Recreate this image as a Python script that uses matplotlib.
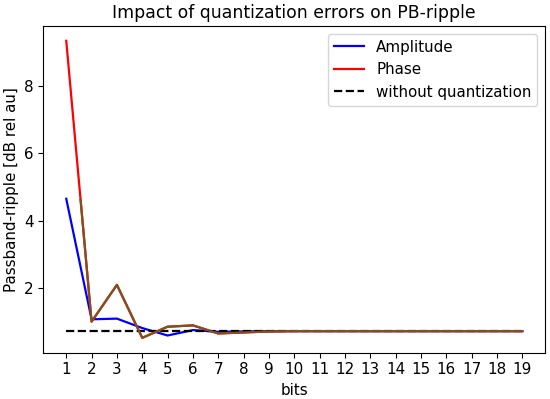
import matplotlib
matplotlib.use("Agg")
import matplotlib.pyplot as plt
import matplotlib.patches as mpatches

bits = list(range(1, 20))
amplitude = [4.65, 1.08, 1.10, 0.82, 0.60, 0.76, 0.71, 0.72, 0.73, 0.73, 0.73, 0.73,
             0.73, 0.73, 0.73, 0.73, 0.73, 0.73, 0.73]
phase = [9.33, 1.01, 2.10, 0.53, 0.86, 0.90, 0.66, 0.69, 0.72, 0.73, 0.73, 0.73,
         0.73, 0.73, 0.73, 0.73, 0.73, 0.73, 0.73]
no_quant = 0.73

plt.rcParams["font.size"] = 10.9
plt.rcParams["lines.linewidth"] = 1.6

fig = plt.figure(figsize=(5.5, 3.99), dpi=100)
ax = fig.add_axes([0.079, 0.116, 0.912, 0.819])

ax.plot(bits, amplitude, color="blue", label="Amplitude")
ax.plot(bits, phase, color="red", label="Phase")
ax.plot(bits, [no_quant] * len(bits), "k--", label="without quantization")

# brownish overlay where the phase curve sits in the amplitude range
overlay, = ax.plot(bits, phase, color="#7f5020")
clip = mpatches.Rectangle((0, -10), 30, 10 + amplitude[0], transform=ax.transData)
overlay.set_clip_path(clip)

ax.set_xticks(bits)
ax.set_title("Impact of quantization errors on PB-ripple", fontsize=12.4)
ax.set_xlabel("bits")
ax.set_ylabel("Passband-ripple [dB rel au]")
ax.legend(loc="upper right")

fig.savefig("out.png")
